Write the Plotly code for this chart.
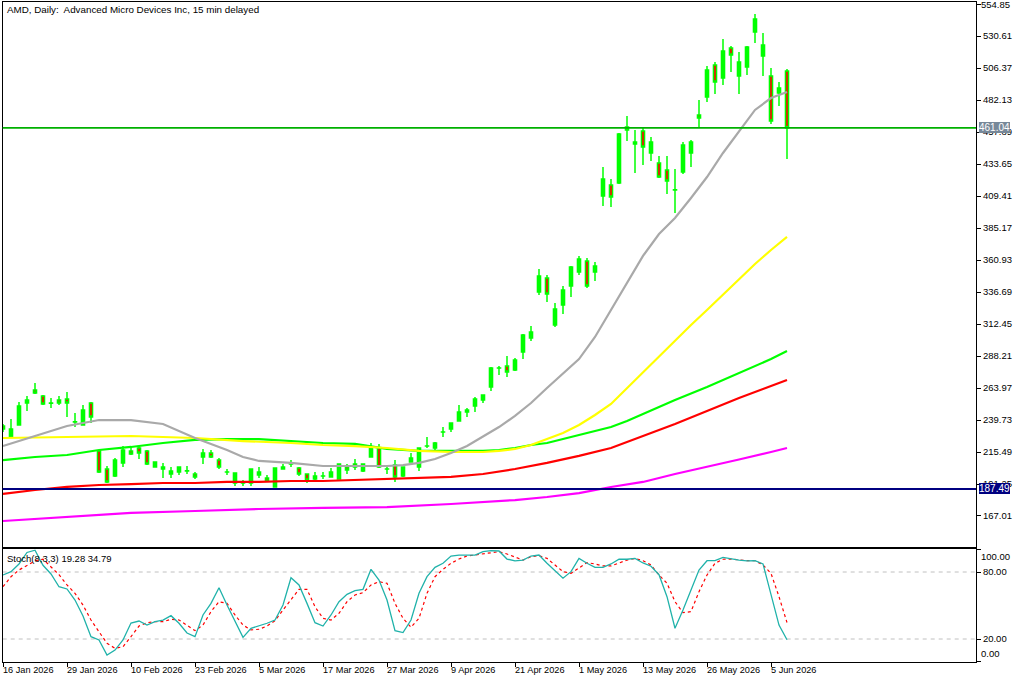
import plotly.graph_objects as go

# ---------------- trading days (categories) ----------------
jan_days = [16, 20, 21, 22, 23, 26, 27, 28, 29, 30]
feb_days = [2, 3, 4, 5, 6, 9, 10, 11, 12, 13, 17, 18, 19, 20, 23, 24, 25, 26, 27]
mar_days = [2, 3, 4, 5, 6, 9, 10, 11, 12, 13, 16, 17, 18, 19, 20, 23, 24, 25, 26, 27, 30, 31]
apr_days = [1, 2, 6, 7, 8, 9, 10, 13, 14, 15, 16, 17, 20, 21, 22, 23, 24, 27, 28, 29, 30]
may_days = [1, 4, 5, 6, 7, 8, 11, 12, 13, 14, 15, 18, 19, 20, 21, 22, 26, 27, 28, 29]
jun_days = [1, 2, 3, 4, 5, 8, 9]
month_days = [("Jan", jan_days), ("Feb", feb_days), ("Mar", mar_days),
              ("Apr", apr_days), ("May", may_days), ("Jun", jun_days)]
dates = [f"{d} {m} 2026" for m, days in month_days for d in days]

# ---------------- OHLC ----------------
opens = [235.2, 226.9, 235.9, 252.6, 262.5, 257.9, 252.5, 254.9, 255.6, 238.2,
         235.9, 252.6, 216.3, 202.6, 197.3, 207.2, 216.3, 218.5, 216.3, 204.1,
         202.6, 198.8, 200.3, 201.1, 198.8, 211.7, 214.7, 209.4, 200.3, 192.0,
         192.0, 192.0, 198.1, 195.8, 189.0, 202.6, 206.4, 203.4, 198.8, 195.0,
         197.3, 196.6, 195.0, 204.1, 206.4, 201.1, 211.7, 218.5, 202.6, 205.6,
         197.3, 207.9, 204.1, 220.0, 218.5, 230.6, 232.9, 239.0, 245.8, 250.3,
         254.9, 264.7, 279.1, 280.6, 277.6, 291.2, 301.9, 336.7, 347.3, 311.7,
         326.8, 341.2, 351.8, 360.2, 351.8, 409.4, 417.8, 419.3, 461.7, 450.3,
         458.7, 442.0, 434.4, 429.1, 414.0, 427.6, 442.0, 470.8, 484.4, 508.6,
         498.8, 521.5, 500.3, 507.1, 533.6, 515.5, 500.3, 487.4, 504.1]
highs = [236.7, 240.5, 253.4, 257.9, 267.8, 258.7, 256.4, 257.9, 260.9, 245.0,
         251.1, 253.4, 216.6, 204.9, 210.9, 220.0, 219.3, 220.0, 217.0, 208.2,
         207.2, 204.1, 204.5, 204.9, 200.3, 217.8, 217.0, 210.9, 202.6, 199.8,
         194.3, 203.0, 204.1, 198.1, 203.6, 206.4, 209.4, 204.1, 199.2, 200.3,
         200.3, 203.4, 206.6, 206.4, 210.2, 206.6, 222.3, 221.6, 204.9, 209.4,
         204.3, 214.7, 218.7, 226.9, 223.1, 234.4, 237.7, 251.1, 248.8, 257.2,
         258.9, 279.9, 280.6, 288.2, 286.7, 304.9, 310.9, 354.1, 349.6, 328.4,
         341.2, 356.3, 364.0, 362.5, 359.4, 431.4, 422.3, 457.1, 470.0, 459.4,
         460.9, 454.1, 439.7, 439.7, 429.9, 450.3, 451.8, 482.1, 507.9, 510.9,
         528.3, 523.0, 518.5, 523.0, 547.3, 532.9, 506.4, 495.8, 505.6]
lows = [230.6, 226.5, 235.5, 246.6, 259.4, 251.1, 248.8, 251.1, 242.0, 234.4,
        235.5, 237.5, 199.6, 192.0, 196.6, 204.1, 213.2, 210.2, 205.6, 204.0,
        195.8, 195.8, 198.1, 198.8, 195.0, 206.4, 210.9, 202.6, 198.1, 189.7,
        189.7, 189.7, 195.8, 192.8, 188.8, 202.4, 204.1, 197.3, 192.0, 194.3,
        195.0, 196.4, 194.8, 198.8, 201.9, 200.3, 211.5, 203.4, 198.8, 192.8,
        196.6, 207.7, 201.1, 218.5, 217.0, 226.9, 230.6, 238.8, 242.0, 245.8,
        252.6, 261.7, 273.8, 272.3, 276.9, 285.9, 299.6, 334.4, 329.1, 310.2,
        320.0, 332.9, 349.6, 339.7, 345.0, 401.8, 401.1, 418.5, 451.1, 426.8,
        432.9, 435.9, 423.1, 410.9, 396.5, 426.1, 431.4, 461.7, 480.6, 486.7,
        493.5, 503.3, 486.7, 501.1, 525.3, 500.3, 464.0, 477.6, 437.5]
closes = [232.9, 232.9, 250.3, 254.9, 260.2, 251.9, 252.7, 252.6, 252.6, 238.4,
          247.3, 242.0, 200.3, 192.8, 209.4, 217.0, 214.0, 214.7, 206.4, 207.9,
          204.1, 201.1, 204.1, 201.2, 196.6, 214.7, 211.7, 204.1, 200.4, 199.6,
          192.1, 202.6, 200.3, 193.5, 203.4, 204.1, 206.5, 198.8, 194.3, 197.3,
          197.4, 200.3, 206.4, 201.9, 204.1, 206.4, 219.3, 204.1, 202.7, 196.6,
          204.1, 210.9, 218.5, 220.1, 222.3, 230.7, 237.5, 245.8, 247.3, 255.6,
          258.7, 279.1, 279.2, 276.1, 285.2, 304.1, 306.4, 348.8, 335.2, 323.8,
          338.2, 355.6, 361.7, 341.2, 356.4, 422.3, 408.7, 456.4, 459.4, 448.8,
          446.5, 450.3, 423.8, 420.8, 414.1, 448.0, 450.3, 468.5, 504.9, 495.8,
          519.3, 516.2, 510.9, 522.3, 543.5, 523.8, 466.2, 491.2, 461.04]

# ---------------- moving averages (read at sampled bars) ----------------
gray_idx = [0, 4, 8, 12, 16, 20, 24, 28, 30, 32, 36, 40, 44, 48, 50, 52, 54, 56, 58, 60,
            62, 64, 66, 68, 70, 72, 74, 76, 78, 80, 82, 84, 86, 88, 90, 92, 94, 96, 98]
gray_ma = [220.0, 227.6, 235.2, 239.7, 239.7, 236.7, 226.1, 217.0, 211.7, 208.7,
           207.2, 204.9, 204.9, 204.9, 205.6, 207.2, 210.2, 214.7, 220.0, 226.9,
           234.4, 242.8, 252.6, 264.0, 275.3, 285.9, 302.6, 323.0, 343.5, 364.0,
           380.6, 392.7, 407.9, 423.8, 442.0, 458.6, 474.6, 483.6, 488.2]
yellow_idx = [0, 8, 16, 24, 30, 36, 40, 44, 48, 52, 56, 60, 62, 64, 66, 68, 70, 72, 74,
              76, 78, 80, 82, 84, 86, 88, 90, 92, 94, 96, 98]
yellow_ma = [226.1, 226.9, 227.6, 226.1, 223.8, 222.3, 220.8, 220.0, 218.5, 216.3,
             215.5, 215.5, 216.3, 217.8, 220.8, 225.3, 229.9, 235.9, 243.5, 251.9,
             264.0, 276.1, 288.2, 299.6, 311.7, 323.0, 334.4, 345.8, 357.9, 368.5, 378.4]
green_idx = [0, 4, 8, 12, 16, 20, 24, 28, 32, 36, 40, 44, 48, 52, 56, 60, 62, 64, 66, 68,
             70, 72, 74, 76, 78, 80, 84, 88, 92, 96, 98]
green_ma = [209.4, 211.7, 213.2, 217.0, 219.3, 222.3, 224.6, 225.3, 225.3, 223.8,
            222.3, 221.6, 217.8, 216.3, 216.3, 216.3, 217.0, 218.5, 220.8, 222.3,
            225.3, 228.4, 231.4, 234.4, 239.0, 244.3, 254.9, 264.7, 275.3, 285.9, 292.0]
red_idx = [0, 4, 8, 12, 16, 20, 24, 28, 32, 36, 40, 44, 48, 52, 56, 60, 64, 68, 72, 76,
           80, 84, 88, 92, 96, 98]
red_ma = [183.7, 186.7, 189.0, 190.5, 191.2, 192.0, 192.0, 192.8, 192.8, 193.5,
          193.5, 194.3, 195.0, 195.8, 196.6, 198.8, 202.6, 207.2, 212.5, 218.5,
          227.6, 236.7, 246.5, 256.4, 265.5, 270.0]
magenta_idx = [0, 8, 16, 24, 32, 40, 48, 56, 60, 64, 68, 72, 76, 80, 84, 88, 92, 96, 98]
magenta_ma = [163.2, 166.3, 169.3, 170.8, 172.3, 173.1, 173.8, 176.1, 177.6, 179.1,
              181.4, 184.4, 189.0, 192.8, 198.8, 204.1, 209.8, 215.5, 218.5]

# ---------------- horizontal levels ----------------
level_green = 461.04
level_navy = 187.49

# ---------------- stochastic ----------------
stoch_main = [77.3, 80.3, 87.2, 97.5, 99.5, 86.0, 78.2, 66.8, 64.8, 54.9,
              40.6, 22.1, 19.1, 5.7, 10.1, 19.1, 34.3, 36.1, 32.5, 35.5,
              37.0, 40.9, 34.1, 25.4, 22.1, 41.5, 51.9, 65.9, 50.4, 35.5,
              21.5, 29.6, 31.6, 34.1, 37.0, 50.4, 74.9, 68.4, 51.9, 34.6,
              31.6, 41.5, 53.4, 60.0, 63.3, 64.5, 82.4, 72.8, 54.9, 27.5,
              25.7, 37.0, 60.9, 75.8, 84.2, 87.8, 94.3, 95.2, 95.2, 95.2,
              98.2, 99.1, 98.8, 91.6, 89.9, 90.7, 94.3, 95.2, 87.8, 80.9,
              74.4, 80.3, 92.2, 87.8, 84.2, 84.2, 87.2, 91.4, 91.4, 92.2,
              88.1, 85.2, 77.6, 57.9, 29.6, 46.0, 63.9, 81.8, 90.1, 90.1,
              93.1, 91.6, 90.7, 89.9, 90.1, 87.2, 59.4, 32.5, 19.28]
stoch_signal = [66.8, 75.8, 81.8, 86.3, 90.0, 91.5, 84.4, 77.6, 68.4, 60.9,
                50.4, 37.0, 26.5, 16.1, 11.7, 13.1, 22.1, 31.6, 34.6, 35.5,
                35.5, 37.6, 37.0, 32.5, 27.5, 32.5, 44.5, 53.4, 51.9, 41.5,
                32.5, 28.1, 28.7, 31.6, 36.4, 46.0, 54.9, 64.5, 64.5, 48.9,
                38.5, 37.0, 43.0, 53.4, 59.4, 61.5, 68.4, 71.3, 69.9, 51.9,
                38.5, 30.5, 38.5, 60.9, 75.8, 82.4, 87.8, 91.6, 94.3, 95.2,
                96.1, 97.6, 98.2, 96.1, 93.1, 90.7, 93.7, 94.6, 92.2, 86.3,
                80.3, 78.8, 83.3, 88.4, 87.2, 85.4, 85.4, 88.4, 90.7, 92.2,
                90.1, 86.3, 77.3, 69.9, 53.4, 43.6, 44.5, 62.4, 77.3, 87.8,
                91.4, 91.6, 90.7, 90.1, 90.1, 86.3, 78.8, 57.9, 34.79]
stoch_levels = [20, 80]

# ---------------- axis labels ----------------
price_ticks = [554.85, 530.61, 506.37, 482.13, 457.89, 433.65, 409.41, 385.17,
               360.93, 336.69, 312.45, 288.21, 263.97, 239.73, 215.49, 191.25, 167.01]
top_price_tick = price_ticks[0]
date_label_idx = [0, 8, 16, 24, 32, 40, 48, 56, 64, 72, 80, 88, 96]

title_text = "AMD, Daily:  Advanced Micro Devices Inc, 15 min delayed"
stoch_text = "Stoch(8,3,3) 19.28 34.79"

# ---------------- layout geometry ----------------
W, H = 1024, 683
FONT = "Liberation Sans"
x_dom = [2.7 / W, 976 / W]
y_main_dom = [1 - 546.7 / H, 1 - 2 / H]
y_stoch_dom = [1 - 662 / H, 1 - 549.3 / H]
x_range = [-0.0375, 121.625]
y_main_range = [143.75, 556.37]

fig = go.Figure()

fig.add_trace(go.Candlestick(
    x=dates, open=opens, high=highs, low=lows, close=closes,
    xaxis="x", yaxis="y", whiskerwidth=0,
    increasing=dict(fillcolor="#00FF00", line=dict(color="#00FF00", width=1.5)),
    decreasing=dict(fillcolor="#FF0000", line=dict(color="#00FF00", width=1.5)),
    showlegend=False,
))

for idx, vals, col in [(magenta_idx, magenta_ma, "#FF00FF"),
                       (red_idx, red_ma, "#FF0000"),
                       (green_idx, green_ma, "#00FF00"),
                       (yellow_idx, yellow_ma, "#FFFF00"),
                       (gray_idx, gray_ma, "#A9A9A9")]:
    fig.add_trace(go.Scatter(x=[dates[i] for i in idx], y=vals, mode="lines",
                             line=dict(color=col, width=2.2), xaxis="x", yaxis="y",
                             showlegend=False, hoverinfo="skip"))

fig.add_trace(go.Scatter(x=dates, y=stoch_signal, mode="lines",
                         line=dict(color="#FF0000", width=1.2, dash="3px,3px"),
                         xaxis="x2", yaxis="y2", showlegend=False))
fig.add_trace(go.Scatter(x=dates, y=stoch_main, mode="lines",
                         line=dict(color="#20B2AA", width=1.3),
                         xaxis="x2", yaxis="y2", showlegend=False))

shapes = [
    dict(type="line", xref="x domain", x0=0, x1=1, yref="y", y0=level_green, y1=level_green,
         line=dict(color="#00B000", width=1.6), layer="above"),
    dict(type="line", xref="x domain", x0=0, x1=1, yref="y", y0=level_navy, y1=level_navy,
         line=dict(color="#000080", width=2), layer="above"),
]
for lv in stoch_levels:
    shapes.append(dict(type="line", xref="x2 domain", x0=0, x1=1, yref="y2", y0=lv, y1=lv,
                       line=dict(color="#C0C0C0", width=1, dash="4px,4px"), layer="below"))

annotations = [
    dict(text=title_text, xref="paper", yref="paper", x=5 / W, y=1 - 2 / H,
         xanchor="left", yanchor="top", showarrow=False,
         font=dict(family=FONT, size=9.8, color="black")),
    dict(text=stoch_text, xref="paper", yref="paper", x=5 / W, y=1 - 550.5 / H,
         xanchor="left", yanchor="top", showarrow=False,
         font=dict(family=FONT, size=9.5, color="black")),
    dict(text=f"{top_price_tick:.2f}", xref="paper", x=979 / W, xanchor="left",
         yref="y", y=top_price_tick, yanchor="middle", showarrow=False,
         font=dict(family=FONT, size=9.5, color="black")),
    dict(text=f"{level_green:.2f}", xref="paper", x=978.5 / W, xanchor="left",
         yref="y", y=level_green, yanchor="middle", showarrow=False,
         bgcolor="#778899", borderpad=0, borderwidth=0,
         font=dict(family=FONT, size=10, color="white")),
    dict(text=f"{level_navy:.2f}", xref="paper", x=978.5 / W, xanchor="left",
         yref="y", y=level_navy, yanchor="middle", showarrow=False,
         bgcolor="#000080", borderpad=0, borderwidth=0,
         font=dict(family=FONT, size=10, color="white")),
    dict(text="100.00", xref="paper", x=979 / W, xanchor="left",
         yref="y2", y=100, yanchor="top", showarrow=False, yshift=1,
         font=dict(family=FONT, size=9.5, color="black")),
    dict(text="0.00", xref="paper", x=979 / W, xanchor="left",
         yref="y2", y=0, yanchor="bottom", showarrow=False,
         font=dict(family=FONT, size=9.5, color="black")),
]
for i in date_label_idx:
    annotations.append(dict(text=dates[i], xref="x2", x=dates[i], xanchor="left",
                            yref="paper", y=1 - 663 / H, yanchor="top", showarrow=False,
                            xshift=-2,
                            font=dict(family=FONT, size=9.2, color="black")))

axis_common = dict(showgrid=False, zeroline=False, showline=True, linecolor="black",
                   linewidth=1, mirror=True, automargin=False)

fig.update_layout(
    width=W, height=H, margin=dict(l=0, r=0, t=0, b=0, pad=0),
    paper_bgcolor="white", plot_bgcolor="white",
    boxgap=0.45, showlegend=False, hovermode=False,
    font=dict(family=FONT, size=9.5, color="black"),
    xaxis=dict(domain=x_dom, type="category", range=x_range, anchor="y",
               showticklabels=False, ticks="", rangeslider=dict(visible=False),
               **axis_common),
    yaxis=dict(domain=y_main_dom, range=y_main_range, side="right", anchor="x",
               tickmode="array", tickvals=price_ticks,
               ticktext=[""] + [f"{v:.2f}" for v in price_ticks[1:]],
               ticks="outside", ticklen=4, tickcolor="black",
               tickfont=dict(family=FONT, size=9.5, color="black"),
               **axis_common),
    xaxis2=dict(domain=x_dom, type="category", range=x_range, anchor="y2",
                tickmode="array", tickvals=[dates[i] for i in date_label_idx],
                showticklabels=False, ticks="outside", ticklen=4, tickcolor="black",
                **axis_common),
    yaxis2=dict(domain=y_stoch_dom, range=[-0.6, 100.33], side="right", anchor="x2",
                tickmode="array", tickvals=[0, 20, 80, 100],
                ticktext=["", "20.00", "80.00", ""],
                ticks="outside", ticklen=4, tickcolor="black",
                tickfont=dict(family=FONT, size=9.5, color="black"),
                **axis_common),
    shapes=shapes, annotations=annotations,
)

fig.write_html("out.html")
